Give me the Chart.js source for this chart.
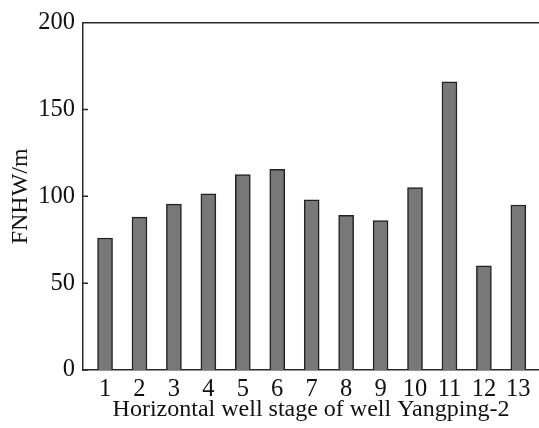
<!DOCTYPE html>
<html>
<head>
<meta charset="utf-8">
<script src="https://cdn.jsdelivr.net/npm/chart.js@4.4.1/dist/chart.umd.min.js"></script>
<style>
  html, body { margin: 0; padding: 0; background: #fff; overflow: hidden; }
  #wrap { width: 539px; height: 428px; }
</style>
</head>
<body>
<div id="wrap"><canvas id="fnhwChart"></canvas></div>
<script>
var stages = [1, 2, 3, 4, 5, 6, 7, 8, 9, 10, 11, 12, 13];
var fnhw = [76, 88, 95.5, 101.5, 112.5, 115.5, 98, 89, 86, 105, 166, 60, 95];
var yTicks = [0, 50, 100, 150, 200];

(function () {
    var serif = '"Liberation Serif", "DejaVu Serif", serif';
    var axisColor = '#2a2a2a';

    // inward tick marks on the y axis plus the top frame line
    var framePlugin = {
        id: 'frame',
        afterDraw: function (chart) {
            var ctx = chart.ctx;
            var area = chart.chartArea;
            var y = chart.scales.y;
            ctx.save();
            ctx.strokeStyle = axisColor;
            ctx.lineWidth = 1.5;
            ctx.beginPath();
            ctx.moveTo(area.left, area.top);
            ctx.lineTo(area.right, area.top);
            yTicks.forEach(function (v) {
                var py = y.getPixelForValue(v);
                ctx.moveTo(area.left, py);
                ctx.lineTo(area.left + 5, py);
            });
            ctx.stroke();
            ctx.restore();
        }
    };

    var points = stages.map(function (s, i) {
        return { x: s, y: fnhw[i] };
    });

    new Chart(document.getElementById('fnhwChart').getContext('2d'), {
        type: 'bar',
        data: {
            datasets: [{
                data: points,
                backgroundColor: '#787878',
                borderColor: '#222222',
                borderWidth: 1.5,
                barThickness: 15
            }]
        },
        options: {
            responsive: true,
            maintainAspectRatio: false,
            animation: false,
            layout: { padding: { top: 20, left: 0, right: 0, bottom: 0 } },
            plugins: {
                legend: { display: false },
                tooltip: { enabled: false }
            },
            scales: {
                x: {
                    type: 'linear',
                    offset: false,
                    min: 0.36,
                    max: 13.6,
                    afterBuildTicks: function (scale) {
                        scale.ticks = stages.map(function (s) { return { value: s }; });
                    },
                    afterFit: function (scale) { scale.height = 58; },
                    grid: { display: false, drawTicks: false },
                    border: { display: true, color: axisColor, width: 1.5 },
                    ticks: {
                        color: '#111',
                        padding: 5,
                        autoSkip: false,
                        maxRotation: 0,
                        font: { family: serif, size: 24.5 },
                        callback: function (v) { return String(v); }
                    },
                    title: {
                        display: true,
                        text: 'Horizontal well stage of well Yangping-2',
                        color: '#111',
                        padding: { top: 0, bottom: 4 },
                        font: { family: serif, size: 24 }
                    }
                },
                y: {
                    min: 0,
                    max: 200,
                    afterBuildTicks: function (scale) {
                        scale.ticks = yTicks.map(function (v) { return { value: v }; });
                    },
                    afterFit: function (scale) { scale.width = 83; },
                    grid: { display: false, drawTicks: false },
                    border: { display: true, color: axisColor, width: 1.5 },
                    ticks: {
                        color: '#111',
                        padding: 8,
                        font: { family: serif, size: 24.5 }
                    },
                    title: {
                        display: true,
                        text: 'FNHW/m',
                        color: '#111',
                        padding: { top: 6, bottom: 0 },
                        font: { family: serif, size: 24 }
                    }
                }
            }
        },
        plugins: [framePlugin]
    });
})();
</script>
</body>
</html>
